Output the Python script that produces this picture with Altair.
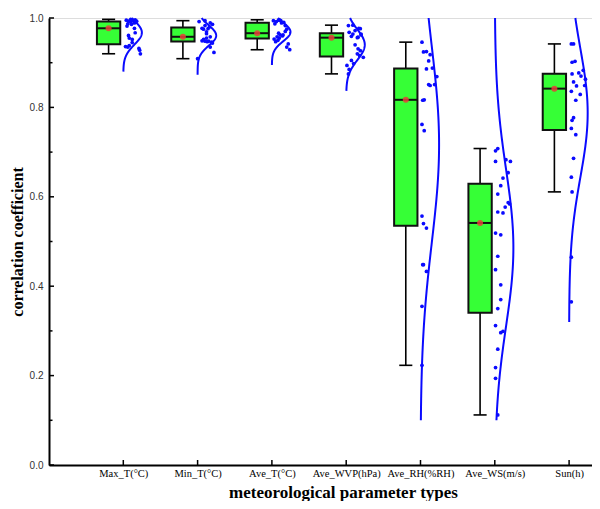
import numpy as np
import pandas as pd
import altair as alt

# ---------------- data ----------------
categories = ["Max_T(°C)", "Min_T(°C)", "Ave_T(°C)", "Ave_WVP(hPa)",
              "Ave_RH(%RH)", "Ave_WS(m/s)", "Sun(h)"]

max_t = [0.920, 0.928, 0.932, 0.935, 0.936, 0.938, 0.945, 0.952, 0.955, 0.961, 0.967, 0.977,
         0.982, 0.986, 0.987, 0.989, 0.991, 0.993, 0.993, 0.994, 0.995, 0.996, 0.997]
max_t_jit = [0.23, 0.22, 0.21, 0.06, 0.03, 0.08, 0.12, 0.12, 0.08, 0.07, 0.16, 0.15,
             0.05, 0.11, 0.06, 0.15, 0.10, 0.18, 0.07, 0.13, 0.04, 0.16, 0.10]

min_t = [0.909, 0.923, 0.935, 0.944, 0.946, 0.947, 0.948, 0.948, 0.949, 0.952, 0.955, 0.958,
         0.965, 0.969, 0.975, 0.976, 0.977, 0.980, 0.983, 0.986, 0.989, 0.992, 0.994]
min_t_jit = [0.00, 0.22, 0.17, 0.20, 0.19, 0.13, 0.15, 0.10, 0.06, 0.08, 0.12, 0.17,
             0.12, 0.12, 0.08, 0.14, 0.06, 0.16, 0.10, 0.20, 0.17, 0.02, 0.10]

ave_t = [0.929, 0.935, 0.942, 0.947, 0.950, 0.953, 0.955, 0.958, 0.960, 0.962, 0.962, 0.966,
         0.970, 0.975, 0.983, 0.987, 0.989, 0.990, 0.992, 0.994, 0.994, 0.995, 0.996]
ave_t_jit = [0.24, 0.20, 0.22, 0.05, 0.08, 0.03, 0.10, 0.07, 0.14, 0.11, 0.15, 0.09,
             0.18, 0.20, 0.18, 0.04, 0.13, 0.16, 0.06, 0.02, 0.12, 0.09, 0.10]

ave_wvp = [0.875, 0.885, 0.894, 0.898, 0.905, 0.912, 0.916, 0.920, 0.927, 0.931, 0.940, 0.956,
           0.957, 0.959, 0.962, 0.964, 0.964, 0.968, 0.972, 0.976, 0.977, 0.983, 0.984]
ave_wvp_jit = [0.03, 0.04, 0.01, 0.10, 0.07, 0.23, 0.18, 0.15, 0.19, 0.16, 0.12, 0.15,
               0.16, 0.07, 0.20, 0.09, 0.20, 0.04, 0.12, 0.19, 0.17, 0.03, 0.09]

ave_rh = [0.223, 0.355, 0.433, 0.448, 0.448, 0.530, 0.540, 0.557, 0.748, 0.762, 0.816, 0.817,
          0.849, 0.851, 0.851, 0.869, 0.886, 0.888, 0.904, 0.918, 0.924, 0.925, 0.946]
ave_rh_jit = [0.02, 0.02, 0.08, 0.03, 0.04, 0.08, 0.04, 0.02, 0.05, 0.02, 0.03, 0.05,
              0.13, 0.19, 0.11, 0.22, 0.08, 0.16, 0.11, 0.13, 0.04, 0.08, 0.02]

ave_ws = [0.112, 0.194, 0.218, 0.259, 0.296, 0.299, 0.312, 0.350, 0.370, 0.403, 0.437, 0.467,
          0.515, 0.519, 0.564, 0.566, 0.577, 0.584, 0.587, 0.606, 0.625, 0.642, 0.654, 0.679,
          0.679, 0.683, 0.703, 0.708]
ave_ws_jit = [0.04, 0.01, 0.01, 0.04, 0.08, 0.11, 0.01, 0.04, 0.08, 0.08, 0.01, 0.04,
              0.08, 0.01, 0.11, 0.04, 0.14, 0.20, 0.18, 0.04, 0.08, 0.11, 0.18, 0.01,
              0.21, 0.15, 0.01, 0.04]

sun = [0.365, 0.465, 0.611, 0.644, 0.686, 0.739, 0.753, 0.771, 0.777, 0.816, 0.829, 0.836,
       0.848, 0.849, 0.857, 0.863, 0.870, 0.875, 0.877, 0.883, 0.901, 0.903, 0.942, 0.942]
sun_jit = [0.03, 0.03, 0.04, 0.03, 0.06, 0.09, 0.03, 0.04, 0.06, 0.09, 0.15, 0.03,
           0.10, 0.21, 0.06, 0.22, 0.16, 0.04, 0.13, 0.19, 0.04, 0.08, 0.03, 0.06]

# lower end of each fitted distribution curve
curve_lo = [0.88, 0.873, 0.895, 0.837, 0.10, 0.10, 0.32]

y_major = [0.0, 0.2, 0.4, 0.6, 0.8, 1.0]
y_minor = [0.1, 0.3, 0.5, 0.7, 0.9]

series = [max_t, min_t, ave_t, ave_wvp, ave_rh, ave_ws, sun]
jitters = [max_t_jit, min_t_jit, ave_t_jit, ave_wvp_jit, ave_rh_jit, ave_ws_jit, sun_jit]

# ---------------- tables ----------------
rows = []
for i, (vals, jit) in enumerate(zip(series, jitters)):
    for v, j in zip(vals, jit):
        rows.append({"pos": i + 1, "v": v, "jit": j})
pts = pd.DataFrame(rows)

crows = []
for i, (vals, lo) in enumerate(zip(series, curve_lo)):
    arr = np.array(vals)
    m, s = arr.mean(), arr.std(ddof=1)
    for y in np.linspace(lo, 1.0, 150):
        w = np.exp(-0.5 * ((y - m) / s) ** 2)
        crows.append({"pos": i + 1, "y": float(y), "w": float(w)})
curve = pd.DataFrame(crows)

UNIT = 74.3          # pixels per category step
W, H = 543, 447
XDOM = [0, W / UNIT]
BOX_OFF = -0.198
BOX_HALF = 0.157
CAP_HALF = 0.088
CURVE_AMP = 0.25

label_expr = "[" + ",".join(["''"] + ["'" + c + "'" for c in categories]) + "][datum.value]"

xs = alt.Scale(domain=XDOM, nice=False, zero=False)
ys = alt.Scale(domain=[0, 1], nice=False)

x_axis = alt.Axis(values=list(range(1, 8)), labelExpr=label_expr, ticks=False, grid=False,
                  domainColor="black", domainWidth=2, labelFont="Liberation Serif",
                  labelFontSize=10.5, labelColor="black", labelPadding=3,
                  title="meteorological parameter types", titleFont="Liberation Serif",
                  titleFontSize=17, titleFontWeight="bold", titleColor="black",
                  titleX=294, titleY=32, titleBaseline="alphabetic")
y_axis = alt.Axis(values=y_major, format=".1f", ticks=False, grid=False,
                  domainColor="black", domainWidth=2, labelFont="Liberation Sans",
                  labelFontSize=10, labelColor="#333333", labelPadding=6,
                  title="correlation coefficient", titleFont="Liberation Serif",
                  titleFontSize=16, titleFontWeight="bold", titleColor="black",
                  titlePadding=4)

base = alt.Chart(pts)

stats = (base
         .transform_joinaggregate(q1="q1(v)", q3="q3(v)", med="median(v)", groupby=["pos"])
         .transform_calculate(iqr="datum.q3 - datum.q1")
         .transform_filter("datum.v >= datum.q1 - 1.5*datum.iqr && datum.v <= datum.q3 + 1.5*datum.iqr")
         .transform_aggregate(lo="min(v)", hi="max(v)", q1="max(q1)", q3="max(q3)",
                              med="max(med)", groupby=["pos"])
         .transform_calculate(bx=f"datum.pos + ({BOX_OFF})",
                              bl=f"datum.pos + ({BOX_OFF}) - {BOX_HALF}",
                              br=f"datum.pos + ({BOX_OFF}) + {BOX_HALF}",
                              cl=f"datum.pos + ({BOX_OFF}) - {CAP_HALF}",
                              cr=f"datum.pos + ({BOX_OFF}) + {CAP_HALF}"))

axes_layer = base.mark_point(opacity=0).encode(
    x=alt.X("pos:Q", scale=xs, axis=x_axis),
    y=alt.Y("v:Q", scale=ys, axis=y_axis),
)

whisker = stats.mark_rule(color="black", strokeWidth=1.6).encode(
    x=alt.X("bx:Q", scale=xs), y=alt.Y("lo:Q", scale=ys), y2="hi:Q")
cap_lo = stats.mark_rule(color="black", strokeWidth=1.6).encode(
    x=alt.X("cl:Q", scale=xs), x2="cr:Q", y=alt.Y("lo:Q", scale=ys))
cap_hi = stats.mark_rule(color="black", strokeWidth=1.6).encode(
    x=alt.X("cl:Q", scale=xs), x2="cr:Q", y=alt.Y("hi:Q", scale=ys))
box = stats.mark_rect(fill="#36ff36", stroke="#111111", strokeWidth=2).encode(
    x=alt.X("bl:Q", scale=xs), x2="br:Q", y=alt.Y("q1:Q", scale=ys), y2="q3:Q")
median = stats.mark_rule(color="#111111", strokeWidth=2).encode(
    x=alt.X("bl:Q", scale=xs), x2="br:Q", y=alt.Y("med:Q", scale=ys))
dot = stats.mark_circle(color="#e8403a", opacity=0.85, size=36).encode(
    x=alt.X("bx:Q", scale=xs), y=alt.Y("med:Q", scale=ys))

points = base.transform_calculate(px="datum.pos + datum.jit").mark_circle(
    color="#0a0aff", opacity=1, size=14).encode(
    x=alt.X("px:Q", scale=xs), y=alt.Y("v:Q", scale=ys))

curves = alt.Chart(curve).transform_calculate(
    cx=f"datum.pos + {CURVE_AMP}*datum.w").mark_line(color="#0a0aff", strokeWidth=2).encode(
    x=alt.X("cx:Q", scale=xs), y=alt.Y("y:Q", scale=ys), detail="pos:N", order="y:Q")

ymaj = alt.Chart(pd.DataFrame({"t": y_major})).mark_rule(color="black", strokeWidth=1.5).encode(
    y=alt.Y("t:Q", scale=ys), x=alt.value(0), x2=alt.value(5))
ymin = alt.Chart(pd.DataFrame({"t": y_minor})).mark_rule(color="black", strokeWidth=1.5).encode(
    y=alt.Y("t:Q", scale=ys), x=alt.value(0), x2=alt.value(3.5))
xt = alt.Chart(pd.DataFrame({"t": list(range(1, 8))})).mark_rule(color="black", strokeWidth=1.5).encode(
    x=alt.X("t:Q", scale=xs), y=alt.value(H), y2=alt.value(H - 5))

chart = alt.layer(axes_layer, whisker, cap_lo, cap_hi, box, median, dot, points, curves,
                  ymaj, ymin, xt).properties(
    width=W, height=H,
    autosize=alt.AutoSizeParams(type="none"),
    padding={"left": 41, "top": 10, "right": 0, "bottom": 36},
).configure_view(stroke=None).configure(background="white")

chart.save("out.html", embed_options={"renderer": "svg", "actions": False})
